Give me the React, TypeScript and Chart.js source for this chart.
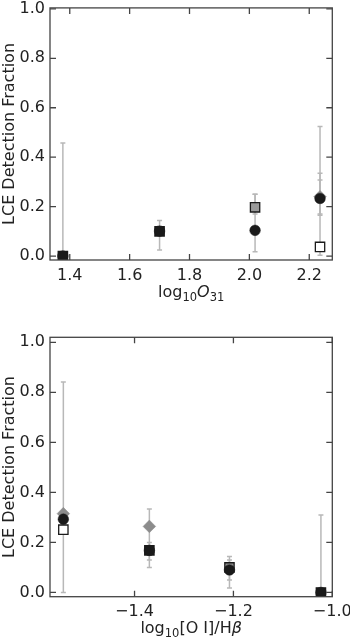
import React, { useEffect, useRef } from "react";
import { Chart, registerables } from "chart.js";

Chart.register(...registerables);
Chart.defaults.font.family = "'DejaVu Sans', sans-serif";

// ---------- data: top panel ----------
const topX = [1.377, 1.7, 2.019, 2.236];
const topCircle = [0.0, 0.101, 0.104, 0.233];
const topSquare = [0.0, 0.1, 0.197, 0.037];
const topDiamond = [null, null, null, 0.24];
const topErrLo = [0.0, 0.024, 0.017, 0.003];
const topErrHi = [0.457, 0.144, 0.25, 0.524];
const topErr2Lo = [null, null, 0.17, 0.17];
const topErr2Hi = [null, null, 0.25, 0.335];
const topErr3Lo = [null, null, null, 0.165];
const topErr3Hi = [null, null, null, 0.308];
const topXTicks = [1.4, 1.6, 1.8, 2.0, 2.2];

// ---------- data: bottom panel ----------
const botX = [-1.544, -1.37, -1.208, -1.023];
const botCircle = [0.293, 0.168, 0.09, 0.0];
const botSquare = [0.251, 0.168, 0.1, 0.0];
const botDiamond = [0.315, 0.264, null, null];
const botErrLo = [0.0, 0.1, 0.018, 0.0];
const botErrHi = [0.841, 0.334, 0.144, 0.31];
const botErr2Lo = [null, 0.13, 0.05, null];
const botErr2Hi = [null, 0.2, 0.13, null];
const botXTicks = [-1.4, -1.2, -1.0];

const yTicks = [0, 0.2, 0.4, 0.6, 0.8, 1.0];
const yTitle = "LCE Detection Fraction";

// styles
const topSquareFill = ["#1a1a1a", "#1a1a1a", "#999999", "#ffffff"];
const botSquareFill = ["#ffffff", "#1a1a1a", "#8c8c8c", "#1a1a1a"];
const FRAME = "#444444";
const TEXT = "#222222";
const ERR = "#b8b8b8";

type Part = { t: string; sub?: boolean; italic?: boolean };

const topTitle: Part[] = [
  { t: "log" },
  { t: "10", sub: true },
  { t: "O", italic: true },
  { t: "31", sub: true },
];
const botTitle: Part[] = [
  { t: "log" },
  { t: "10", sub: true },
  { t: "[O I]/H" },
  { t: "β", italic: true },
];

const fmt = (v: number) => {
  const s = Number(v).toFixed(1);
  return s.replace("-", "\u2212");
};

function pts(xs: number[], ys: (number | null)[]) {
  return xs.map((x, i) => ({ x, y: ys[i] as any }));
}

type PanelProps = {
  height: number;
  padTop: number;
  xAxisH: number;
  xmin: number;
  xmax: number;
  ymin: number;
  ymax: number;
  xs: number[];
  circle: (number | null)[];
  square: (number | null)[];
  diamond: (number | null)[];
  squareFill: string[];
  errs: { lo: (number | null)[]; hi: (number | null)[] }[];
  xTicks: number[];
  title: Part[];
  titleBaseline: number;
};

function Panel(p: PanelProps) {
  const ref = useRef<HTMLCanvasElement | null>(null);
  useEffect(() => {
    if (!ref.current) return;

    const errPlugin = {
      id: "errbars",
      beforeDatasetsDraw(chart: any) {
        const { ctx, scales } = chart;
        const xs = scales.x;
        const ys = scales.y;
        ctx.save();
        ctx.strokeStyle = ERR;
        ctx.lineWidth = 1.5;
        p.errs.forEach((e) => {
          p.xs.forEach((x, i) => {
            const lo = e.lo[i];
            const hi = e.hi[i];
            if (lo == null || hi == null) return;
            const px = xs.getPixelForValue(x);
            const y1 = ys.getPixelForValue(lo);
            const y2 = ys.getPixelForValue(hi);
            ctx.beginPath();
            ctx.moveTo(px, y1);
            ctx.lineTo(px, y2);
            ctx.moveTo(px - 2.5, y1);
            ctx.lineTo(px + 2.5, y1);
            ctx.moveTo(px - 2.5, y2);
            ctx.lineTo(px + 2.5, y2);
            ctx.stroke();
          });
        });
        ctx.restore();
      },
    };

    const framePlugin = {
      id: "frame",
      afterDraw(chart: any) {
        const { ctx, chartArea: a, scales } = chart;
        ctx.save();
        ctx.strokeStyle = FRAME;
        ctx.lineWidth = 1.3;
        ctx.strokeRect(a.left, a.top, a.right - a.left, a.bottom - a.top);
        const L = 6;
        ctx.beginPath();
        p.xTicks.forEach((v) => {
          const px = scales.x.getPixelForValue(v);
          ctx.moveTo(px, a.bottom);
          ctx.lineTo(px, a.bottom - L);
          ctx.moveTo(px, a.top);
          ctx.lineTo(px, a.top + L);
        });
        yTicks.forEach((v) => {
          const py = scales.y.getPixelForValue(v);
          ctx.moveTo(a.left, py);
          ctx.lineTo(a.left + L, py);
          ctx.moveTo(a.right, py);
          ctx.lineTo(a.right - L, py);
        });
        ctx.stroke();

        // x-axis title with subscripts / italics
        const big = 16;
        const small = 11.5;
        const fontOf = (part: Part) =>
          `${part.italic ? "italic " : ""}${part.sub ? small : big}px 'DejaVu Sans', sans-serif`;
        let total = 0;
        const widths = p.title.map((part) => {
          ctx.font = fontOf(part);
          const w = ctx.measureText(part.t).width;
          total += w;
          return w;
        });
        let x = (a.left + a.right) / 2 - total / 2;
        ctx.fillStyle = TEXT;
        ctx.textBaseline = "alphabetic";
        ctx.textAlign = "left";
        p.title.forEach((part, i) => {
          ctx.font = fontOf(part);
          ctx.fillText(part.t, x, p.titleBaseline + (part.sub ? 3.5 : 0));
          x += widths[i];
        });
        ctx.restore();
      },
    };

    const chart = new Chart(ref.current, {
      type: "scatter",
      data: {
        datasets: [
          {
            label: "circle",
            data: pts(p.xs, p.circle),
            pointStyle: "circle",
            pointRadius: 5.3,
            backgroundColor: "#1a1a1a",
            borderColor: "#1a1a1a",
            borderWidth: 0.5,
          },
          {
            label: "square",
            data: pts(p.xs, p.square),
            pointStyle: "rect",
            pointRadius: 6.6,
            backgroundColor: p.squareFill,
            borderColor: "#1a1a1a",
            borderWidth: 1.3,
          },
          {
            label: "diamond",
            data: pts(p.xs, p.diamond),
            pointStyle: "rectRot",
            pointRadius: 6.3,
            backgroundColor: "#8c8c8c",
            borderColor: "#8c8c8c",
            borderWidth: 0.5,
          },
        ],
      },
      options: {
        animation: false,
        responsive: false,
        maintainAspectRatio: false,
        events: [],
        layout: { padding: { top: p.padTop, right: 17.7, left: 0, bottom: 0 } },
        plugins: { legend: { display: false }, tooltip: { enabled: false } },
        scales: {
          x: {
            type: "linear",
            min: p.xmin,
            max: p.xmax,
            afterBuildTicks: (s: any) => {
              s.ticks = p.xTicks.map((v) => ({ value: v }));
            },
            afterFit: (s: any) => {
              s.height = p.xAxisH;
              s.paddingLeft = 0;
              s.paddingRight = 0;
            },
            ticks: {
              callback: (v: any) => fmt(v),
              font: { size: 16 },
              color: TEXT,
              padding: 6,
              maxRotation: 0,
              autoSkip: false,
            },
            grid: { display: false, drawTicks: false },
            border: { display: false },
          },
          y: {
            type: "linear",
            min: p.ymin,
            max: p.ymax,
            afterBuildTicks: (s: any) => {
              s.ticks = yTicks.map((v) => ({ value: v }));
            },
            afterFit: (s: any) => {
              s.width = 50;
              s.paddingTop = 0;
              s.paddingBottom = 0;
            },
            ticks: {
              callback: (v: any) => fmt(v),
              font: { size: 16 },
              color: TEXT,
              padding: 5,
              autoSkip: false,
            },
            title: {
              display: true,
              text: yTitle,
              font: { size: 16 },
              color: TEXT,
              padding: 0,
            },
            grid: { display: false, drawTicks: false },
            border: { display: false },
          },
        },
      },
      plugins: [errPlugin, framePlugin],
    } as any);
    return () => chart.destroy();
  }, []);
  return <canvas ref={ref} width={350} height={p.height} style={{ display: "block" }} />;
}

export default function App() {
  return (
    <div style={{ position: "absolute", left: 0, top: 0, width: 350, height: 640, background: "#fff" }}>
      <Panel
        height={320}
        padTop={5}
        xAxisH={60}
        xmin={1.334}
        xmax={2.277}
        ymin={-0.016}
        ymax={1.004}
        xs={topX}
        circle={topCircle}
        square={topSquare}
        diamond={topDiamond}
        squareFill={topSquareFill}
        errs={[
          { lo: topErrLo, hi: topErrHi },
          { lo: topErr2Lo, hi: topErr2Hi },
          { lo: topErr3Lo, hi: topErr3Hi },
        ]}
        xTicks={topXTicks}
        title={topTitle}
        titleBaseline={297}
      />
      <Panel
        height={320}
        padTop={17.3}
        xAxisH={43.3}
        xmin={-1.571}
        xmax={-1.0}
        ymin={-0.017}
        ymax={1.02}
        xs={botX}
        circle={botCircle}
        square={botSquare}
        diamond={botDiamond}
        squareFill={botSquareFill}
        errs={[
          { lo: botErrLo, hi: botErrHi },
          { lo: botErr2Lo, hi: botErr2Hi },
        ]}
        xTicks={botXTicks}
        title={botTitle}
        titleBaseline={313.3}
      />
    </div>
  );
}
